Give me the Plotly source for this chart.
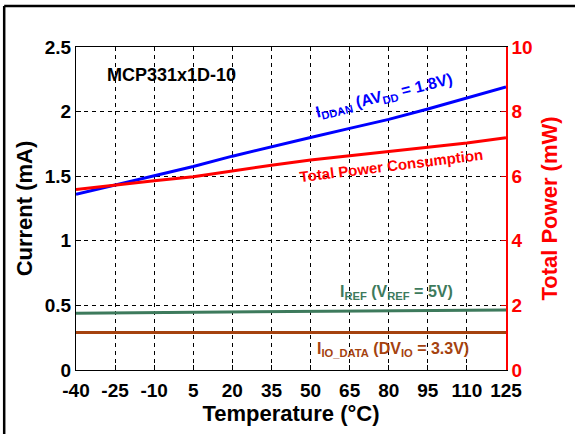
import plotly.graph_objects as go

temps = [-40, -25, -10, 5, 20, 35, 50, 65, 80, 95, 110, 125]
i_ddan = [1.36, 1.43, 1.50, 1.575, 1.655, 1.73, 1.80, 1.87, 1.94, 2.02, 2.105, 2.19]
total_power = [5.59, 5.73, 5.86, 5.98, 6.17, 6.34, 6.50, 6.63, 6.76, 6.89, 7.03, 7.19]
i_ref = [0.44, 0.442, 0.444, 0.446, 0.448, 0.450, 0.452, 0.454, 0.457, 0.459, 0.462, 0.464]
i_io = [0.29] * 12

x_ticks = temps
y_ticks = [0, 0.5, 1, 1.5, 2, 2.5]
y_tick_text = ["0", "0.5", "1", "1.5", "2", "2.5"]
y2_ticks = [0, 2, 4, 6, 8, 10]

FONT = "Liberation Sans, Arial, sans-serif"
BLUE = "#0000FF"
RED = "#FF0000"
GREEN = "#3D7A5C"
BROWN = "#A5420F"

fig = go.Figure()
fig.add_trace(go.Scatter(x=temps, y=i_io, mode="lines", line=dict(color=BROWN, width=3), showlegend=False))
fig.add_trace(go.Scatter(x=temps, y=i_ref, mode="lines", line=dict(color=GREEN, width=3), showlegend=False))
fig.add_trace(go.Scatter(x=temps, y=i_ddan, mode="lines", line=dict(color=BLUE, width=3), showlegend=False))
fig.add_trace(go.Scatter(x=temps, y=total_power, mode="lines", line=dict(color=RED, width=3),
                         yaxis="y2", showlegend=False))

TICK_SIZE = 19
TITLE_SIZE = 22

fig.update_layout(
    width=575, height=434,
    margin=dict(l=76, r=69, t=47, b=64),
    paper_bgcolor="white", plot_bgcolor="white",
    font=dict(family=FONT),
    xaxis=dict(
        range=[-40, 125], tickvals=x_ticks, ticktext=[f"<b>{t}</b>" for t in x_ticks],
        tickfont=dict(family=FONT, size=TICK_SIZE, color="black"),
        ticks="inside", ticklen=5, tickcolor="black", ticklabelstandoff=3,
        showgrid=True, gridcolor="black", gridwidth=1, griddash="4px,4px",
        showline=True, linecolor="black", linewidth=1, mirror=True,
        zeroline=False,
        title=dict(text="<b>Temperature (°C)</b>", font=dict(family=FONT, size=TITLE_SIZE, color="black"), standoff=0),
    ),
    yaxis=dict(
        range=[0, 2.5], tickvals=y_ticks, ticktext=[f"<b>{t}</b>" for t in y_tick_text],
        tickfont=dict(family=FONT, size=TICK_SIZE, color="black"),
        ticks="inside", ticklen=5, tickcolor="black",
        showgrid=True, gridcolor="black", gridwidth=1, griddash="4px,4px",
        showline=True, linecolor="black", linewidth=1,
        zeroline=False,
        title=dict(text="<b>Current (mA)</b>", font=dict(family=FONT, size=TITLE_SIZE, color="black"), standoff=6),
    ),
    yaxis2=dict(
        range=[0, 10], tickvals=y2_ticks, ticktext=[f"<b>{t}</b>" for t in y2_ticks],
        overlaying="y", side="right",
        tickfont=dict(family=FONT, size=TICK_SIZE, color=RED),
        ticks="inside", ticklen=5, tickcolor="#C00000",
        showgrid=False, showline=True, linecolor=RED, linewidth=1.5, zeroline=False,
        title=dict(text="<b>Total Power (mW)</b>", font=dict(family=FONT, size=TITLE_SIZE, color=RED), standoff=10),
    ),
)

fig.add_annotation(x=-3.5, y=2.28, xref="x", yref="y", text="<b>MCP331x1D-10</b>",
                   showarrow=False, font=dict(family=FONT, size=18, color="black"))
fig.add_annotation(x=78, y=2.12, xref="x", yref="y",
                   text="<b>I<sub>DDAN</sub> (AV<sub>DD</sub> = 1.8V)</b>",
                   showarrow=False, textangle=-14, font=dict(family=FONT, size=16, color=BLUE))
fig.add_annotation(x=81, y=1.58, xref="x", yref="y",
                   text="<b>Total Power Consumption</b>",
                   showarrow=False, textangle=-7, font=dict(family=FONT, size=15, color=RED))
fig.add_annotation(x=83, y=0.60, xref="x", yref="y",
                   text="<b>I<sub>REF</sub> (V<sub>REF</sub> = 5V)</b>",
                   showarrow=False, font=dict(family=FONT, size=16, color=GREEN))
fig.add_annotation(x=81.5, y=0.155, xref="x", yref="y",
                   text="<b>I<sub>IO_DATA</sub> (DV<sub>IO</sub> = 3.3V)</b>",
                   showarrow=False, font=dict(family=FONT, size=16, color=BROWN))

# outer frame (top and left edges)
fig.add_shape(type="line", xref="paper", yref="paper", x0=-0.167, x1=1.2, y0=1.127, y1=1.127,
              line=dict(color="black", width=2.5))
fig.add_shape(type="line", xref="paper", yref="paper", x0=-0.167, x1=-0.167, y0=1.127, y1=-0.25,
              line=dict(color="black", width=2.5))

fig.write_html("out.html", config={"displayModeBar": False},
               post_script="document.body.style.margin='0';")
